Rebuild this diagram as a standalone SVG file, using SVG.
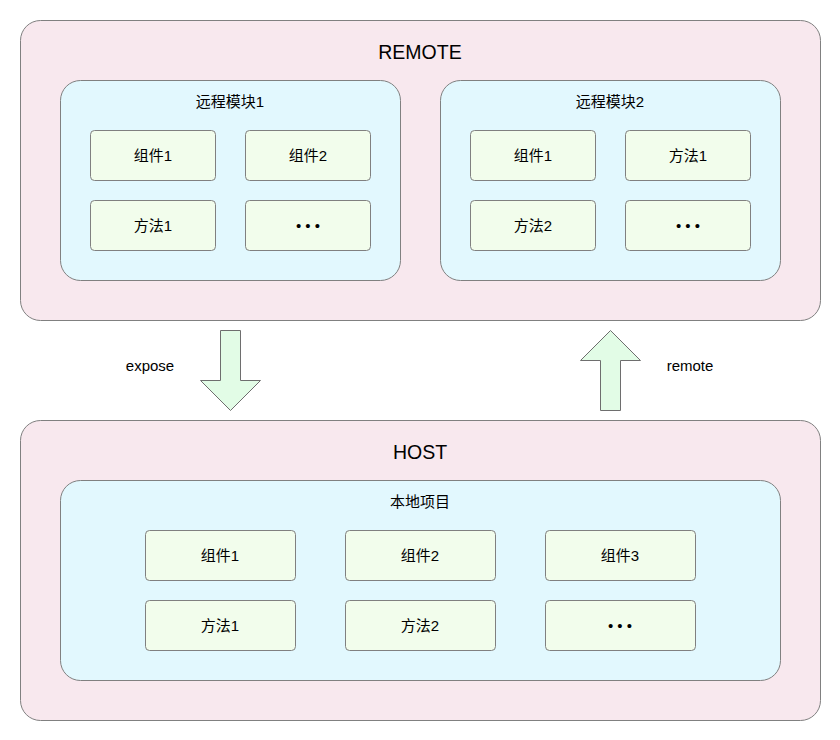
<svg xmlns="http://www.w3.org/2000/svg" width="840" height="740" viewBox="0 0 840 740">
<style>
text{font-family:"Liberation Sans","Noto Sans CJK SC",sans-serif;fill:#000;text-anchor:middle;dominant-baseline:central}
.outer{fill:#F8E8EE;stroke:#808080;stroke-width:1}
.inner{fill:#E2F8FE;stroke:#808080;stroke-width:1}
.box{fill:#F2FDEC;stroke:#808080;stroke-width:1}
.arrow{fill:#E2FCE6;stroke:#6E6E6E;stroke-width:1}
.big{font-size:19.5px}
.t{font-size:15px}
</style>
<rect width="840" height="740" fill="#FFFFFF"/>
<g id="remote">
<rect class="outer" x="20.5" y="20.5" width="800" height="300" rx="20"/>
<text class="big" x="420" y="52">REMOTE</text>
</g>
<g id="module1">
<rect class="inner" x="60.5" y="80.5" width="340" height="200" rx="20"/>
<text class="t" x="230" y="101.5">远程模块1</text>
</g>
<g id="m1-comp1"><rect class="box" x="90.5" y="130.5" width="125" height="50" rx="4"/><text class="t" x="153" y="155.5">组件1</text></g>
<g id="m1-comp2"><rect class="box" x="245.5" y="130.5" width="125" height="50" rx="4"/><text class="t" x="308" y="155.5">组件2</text></g>
<g id="m1-method1"><rect class="box" x="90.5" y="200.5" width="125" height="50" rx="4"/><text class="t" x="153" y="225.5">方法1</text></g>
<g id="m1-more"><rect class="box" x="245.5" y="200.5" width="125" height="50" rx="4"/><text class="t" x="308" y="225.5">• • •</text></g>
<g id="module2">
<rect class="inner" x="440.5" y="80.5" width="340" height="200" rx="20"/>
<text class="t" x="610" y="101.5">远程模块2</text>
</g>
<g id="m2-comp1"><rect class="box" x="470.5" y="130.5" width="125" height="50" rx="4"/><text class="t" x="533" y="155.5">组件1</text></g>
<g id="m2-method1"><rect class="box" x="625.5" y="130.5" width="125" height="50" rx="4"/><text class="t" x="688" y="155.5">方法1</text></g>
<g id="m2-method2"><rect class="box" x="470.5" y="200.5" width="125" height="50" rx="4"/><text class="t" x="533" y="225.5">方法2</text></g>
<g id="m2-more"><rect class="box" x="625.5" y="200.5" width="125" height="50" rx="4"/><text class="t" x="688" y="225.5">• • •</text></g>
<g id="connectors">
<g id="expose">
<path class="arrow" d="M220.5,330.5 H240.5 V380.5 H260.5 L230.5,410.5 L200.5,380.5 H220.5 Z"/>
<text class="t" x="150" y="365">expose</text>
</g>
<g id="remote-arrow">
<path class="arrow" d="M610.5,330.5 L640.5,360.5 H620.5 V410.5 H600.5 V360.5 H580.5 Z"/>
<text class="t" x="690" y="365">remote</text>
</g>
</g>
<g id="host">
<rect class="outer" x="20.5" y="420.5" width="800" height="300" rx="20"/>
<text class="big" x="420" y="452">HOST</text>
</g>
<g id="local">
<rect class="inner" x="60.5" y="480.5" width="720" height="200" rx="20"/>
<text class="t" x="420" y="501.5">本地项目</text>
</g>
<g id="h-comp1"><rect class="box" x="145.5" y="530.5" width="150" height="50" rx="4"/><text class="t" x="220" y="555.5">组件1</text></g>
<g id="h-comp2"><rect class="box" x="345.5" y="530.5" width="150" height="50" rx="4"/><text class="t" x="420" y="555.5">组件2</text></g>
<g id="h-comp3"><rect class="box" x="545.5" y="530.5" width="150" height="50" rx="4"/><text class="t" x="620" y="555.5">组件3</text></g>
<g id="h-method1"><rect class="box" x="145.5" y="600.5" width="150" height="50" rx="4"/><text class="t" x="220" y="625.5">方法1</text></g>
<g id="h-method2"><rect class="box" x="345.5" y="600.5" width="150" height="50" rx="4"/><text class="t" x="420" y="625.5">方法2</text></g>
<g id="h-more"><rect class="box" x="545.5" y="600.5" width="150" height="50" rx="4"/><text class="t" x="620" y="625.5">• • •</text></g>
</svg>
